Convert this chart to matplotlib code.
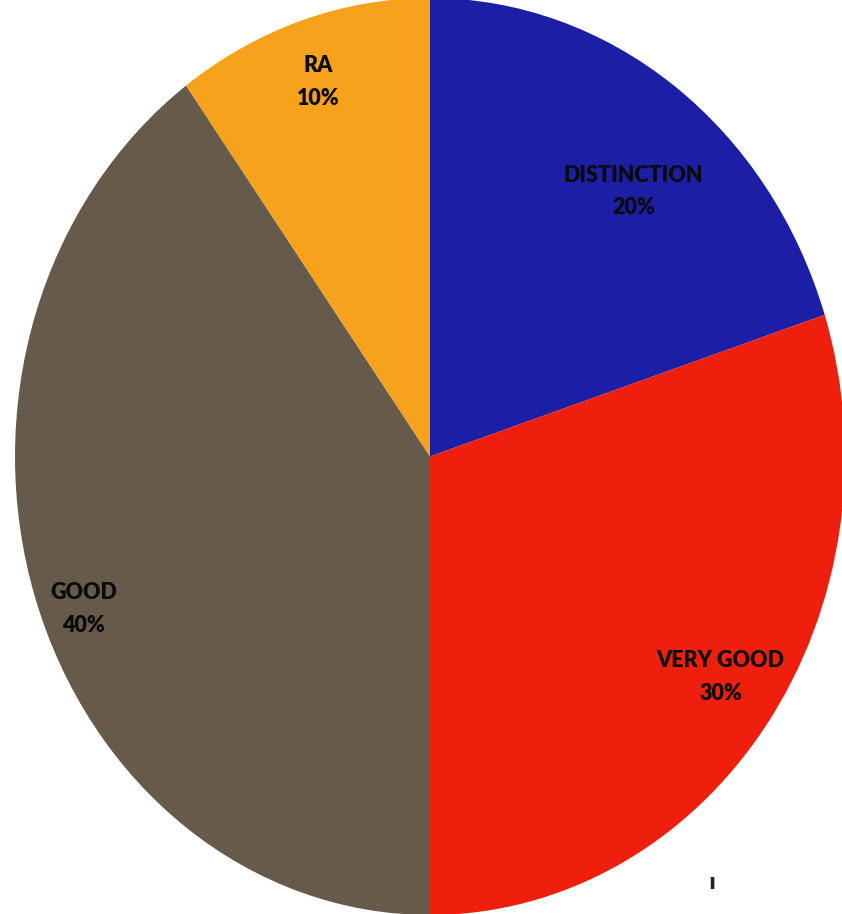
import numpy as np
import matplotlib.pyplot as plt

# Datos del gráfico
categorias = ["DISTINCTION", "VERY GOOD", "GOOD", "RA"]
porcentajes = [20, 30, 40, 10]
colores = ["#1c1ea6", "#ee1f0c", "#665a4b", "#f7a21c"]
# posición de las etiquetas (coordenadas del eje)
pos_etiquetas = [(0.49, 0.578), (0.70, -0.481), (-0.834, -0.333), (-0.27, 0.816)]

fig = plt.figure(figsize=(8.42, 9.14), dpi=100)
ax = fig.add_axes([15 / 842, -1 / 914, 830 / 842, 917 / 914])

wedges, _ = ax.pie(porcentajes, colors=colores, startangle=90, counterclock=False,
                   radius=1.0, wedgeprops=dict(linewidth=0))

# Etiquetas dentro de cada porción
for cat, pct, (x, y) in zip(categorias, porcentajes, pos_etiquetas):
    ax.text(x, y, f"{cat}\n{pct}%", ha="center", va="center", fontsize=15.5,
            fontweight="heavy", family="Lato", color="#0a0a0a", linespacing=1.7)

# marca suelta cerca del borde inferior
ax.text(0.68, -0.93, "ı", ha="center", va="center", fontsize=15,
        fontweight="bold", color="#222222")

ax.set_aspect("auto")
ax.set_xlim(-1, 1)
ax.set_ylim(-1, 1)
ax.axis("off")

plt.savefig("out.png", dpi=100)
plt.close()
